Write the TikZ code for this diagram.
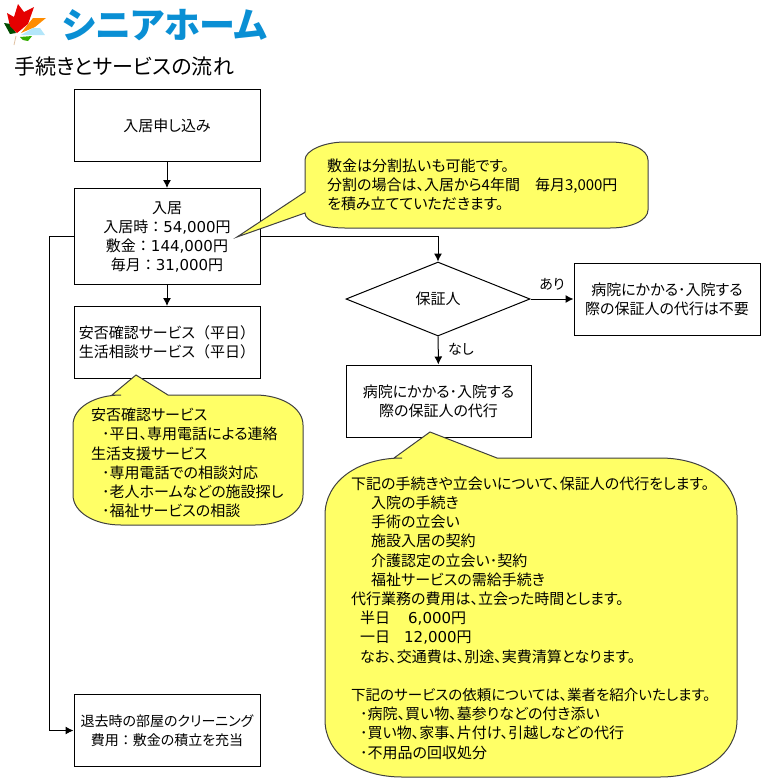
\documentclass[tikz,border=0pt]{standalone}
\usepackage{fontspec}
\setmainfont[RawFeature={+palt}]{Noto Sans CJK JP}
\newfontfamily\widefont{Noto Sans CJK JP}
\newfontfamily\digitfont{DejaVu Sans}
\newcommand{\wide}[1]{{\widefont #1}}
\newcommand{\digits}[1]{{\digitfont #1}}
\usetikzlibrary{shapes.geometric,arrows.meta}
\definecolor{notefill}{HTML}{FFFF66}
\definecolor{logoblue}{HTML}{0A8FD4}
\tikzset{
  flowbox/.style={draw,fill=white,line width=1pt,minimum width=186pt,minimum height=72pt,align=center,inner sep=0pt,font=\fontsize{15}{19}\selectfont},
  note/.style={draw=black!75,fill=notefill,line width=1pt},
  notetext/.style={anchor=west,align=left,inner sep=0pt,font=\fontsize{15}{19.2}\selectfont},
  tag/.style={inner sep=0pt,font=\fontsize{14}{19}\selectfont},
  flow/.style={-{Latex[length=8pt,width=8pt]},line width=1pt}
}
\begin{document}
\begin{tikzpicture}[x=1pt,y=-1pt]
\useasboundingbox (0,0) rectangle (764,780);
\fill[orange!90!yellow] (21,33) -- (33,18) -- (46,18) -- (35,27) -- cycle;
\fill[cyan!30] (21,35) -- (33,28) -- (40,28) -- (45,35) -- cycle;
\fill[green!60!black!80!yellow] (20,37) -- (32,36) -- (28,41) -- (23,40) -- cycle;
\fill[green!30!black] (4,23) -- (11,24) -- (16,33) -- (10,34) -- cycle;
\fill[red!90!black] (7,13) -- (14,17) -- (18,4) -- (24,12) -- (34,7) -- (28,24) -- (17,33) -- (10,26) -- cycle;
\draw[brown!50,line width=0.8pt] (16,36) -- (14,45);
\node[anchor=west,inner sep=0pt,text=logoblue,font=\fontsize{36}{36}\selectfont\bfseries] (brand) at (62,25) {シニアホーム};
\node[anchor=west,inner sep=0pt,font=\fontsize{21}{21}\selectfont] (title) at (14,67) {手続きとサービスの流れ};
\node[flowbox] (apply) at (167,125.5) {入居申し込み};
\node[flowbox,minimum height=96pt] (enter) at (167,236.5) {入居\\入居時\wide{：}\digits{54,000}円\\敷金\wide{：}\digits{144,000}円\\毎月\wide{：}\digits{31,000}円};
\node[flowbox] (safety) at (167,342.5) {安否確認サービス\wide{（}平日\wide{）}\\生活相談サービス\wide{（}平日\wide{）}};
\node[flowbox,font=\fontsize{14}{19}\selectfont] (leave) at (167,730.5) {退去時の部屋のクリーニング\\費用\wide{：}敷金の積立を充当};
\node[diamond,draw,fill=white,line width=1pt,minimum width=184pt,minimum height=74pt,aspect=2.5,inner sep=0pt,font=\fontsize{15}{19}\selectfont] (guarantor) at (438,299) {保証人};
\node[flowbox,minimum width=185pt] (proxy) at (438.5,401) {病院にかかる･入院する\\際の保証人の代行};
\node[flowbox] (noproxy) at (667,299) {病院にかかる･入院する\\際の保証人の代行は不要};
\draw[flow] (apply) -- (enter);
\draw[flow] (enter) -- (safety);
\draw[flow] (enter.east) -| (guarantor.north);
\draw[flow] (guarantor) -- (proxy);
\draw[flow] (guarantor) -- (noproxy);
\draw[flow] (enter.west) -- ++(-24,0) |- (leave.west);
\node[tag] (yes) at (552,284) {あり};
\node[tag] (no) at (461,349) {なし};
\draw[note] (305,192) -- (237,237) -- (305,213) .. controls (305,222) and (325,228) .. (345,228) -- (610,228) .. controls (632,228) and (648,220) .. (648,210) -- (648,160) .. controls (648,150) and (632,142) .. (610,142) -- (345,142) .. controls (325,142) and (305,150) .. (305,160) -- cycle;
\draw[note] (112,395) -- (136,375) -- (168,395) -- (255,395) .. controls (282,395) and (303,408) .. (303,425) -- (303,495) .. controls (303,512) and (282,525) .. (255,525) -- (121,525) .. controls (94,525) and (73,512) .. (73,495) -- (73,425) .. controls (73,408) and (94,395) .. (121,395) -- cycle;
\draw[note] (394,458) -- (430,432) -- (497,458) -- (660,458) .. controls (705,458) and (737,482) .. (737,515) -- (737,720) .. controls (737,753) and (705,777) .. (660,777) -- (402,777) .. controls (357,777) and (325,753) .. (325,720) -- (325,515) .. controls (325,482) and (357,458) .. (402,458) -- cycle;
\node[notetext] (depositnote) at (327,185) {敷金は分割払いも可能です。\\分割の場合は、入居から4年間　毎月3,000円\\を積み立てていただきます。};
\node[notetext] (safetynote) at (91,463) {安否確認サービス\\\hspace*{11pt}･平日、専用電話による連絡\\生活支援サービス\\\hspace*{11pt}･専用電話での相談対応\\\hspace*{11pt}･老人ホームなどの施設探し\\\hspace*{11pt}･福祉サービスの相談};
\node[notetext] (proxynote) at (351,618) {下記の手続きや立会いについて、保証人の代行をします。\\
\hspace*{20pt}入院の手続き\\
\hspace*{20pt}手術の立会い\\
\hspace*{20pt}施設入居の契約\\
\hspace*{20pt}介護認定の立会い･契約\\
\hspace*{20pt}福祉サービスの需給手続き\\
代行業務の費用は、立会った時間とします。\\
\hspace*{9pt}半日\hspace{18pt}\digits{6,000}円\\
\hspace*{9pt}一日\hspace{14pt}\digits{12,000}円\\
\hspace*{9pt}なお、交通費は、別途、実費清算となります。\\
\mbox{}\\
{\fontsize{14.5}{19.2}\selectfont 下記のサービスの依頼については、業者を紹介いたします。}\\
\hspace*{9pt}･病院、買い物、墓参りなどの付き添い\\
\hspace*{9pt}･買い物、家事、片付け、引越しなどの代行\\
\hspace*{9pt}･不用品の回収処分};
\end{tikzpicture}
\end{document}
